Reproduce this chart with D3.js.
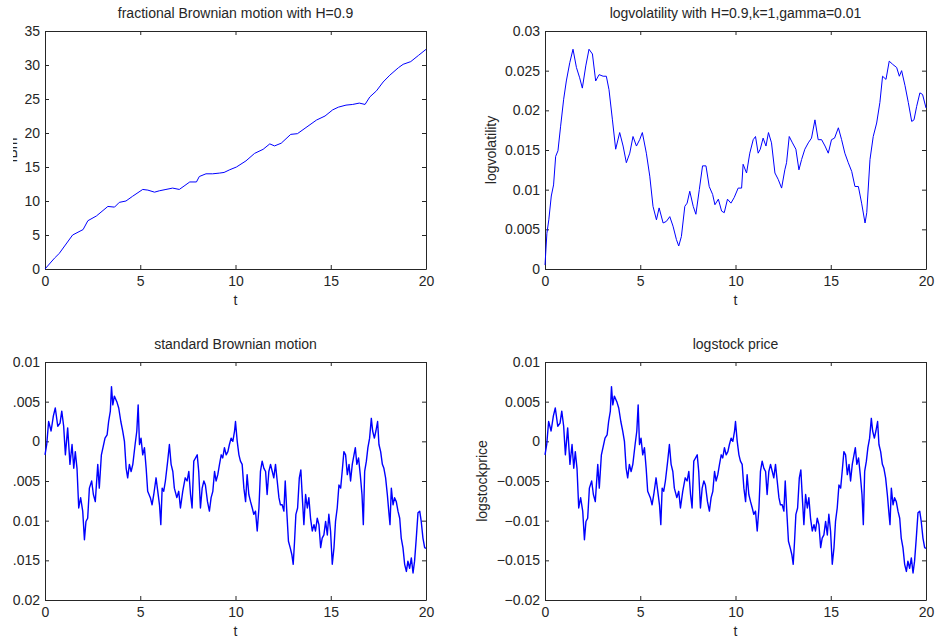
<!DOCTYPE html>
<html>
<head>
<meta charset="utf-8">
<script src="https://cdnjs.cloudflare.com/ajax/libs/d3/7.8.5/d3.min.js"></script>
<style>
  body { margin: 0; background: #fff; }
  svg { display: block; }
</style>
</head>
<body>
<div class="chart"></div>
<script>
// tick values shared by the panels
const tTicks = [0, 5, 10, 15, 20];
const fbmTicks = [0, 5, 10, 15, 20, 25, 30, 35];
const volTicks = [0, 0.005, 0.01, 0.015, 0.02, 0.025, 0.03];
const bmTicks = [-0.02, -0.015, -0.01, -0.005, 0, 0.005, 0.01];

// fractional Brownian motion, H=0.9
const fbmT = [0,0.5,0.75,1.45,2.0,2.25,2.7,3.3,3.65,3.9,4.25,4.6,5.13,5.4,5.75,6.0,6.35,6.7,7.05,7.3,7.6,7.95,8.1,8.45,8.8,9.15,9.4,9.7,10.05,10.55,11.0,11.45,11.8,12.05,12.4,12.9,13.25,13.7,14.25,14.7,15.1,15.4,15.8,16.15,16.5,16.8,17.05,17.4,17.75,18.1,18.55,18.8,19.2,19.6,20];
const fbmV = [0,1.6,2.3,5.0,5.8,7.1,7.8,9.2,9.1,9.8,10.0,10.7,11.7,11.6,11.3,11.5,11.7,11.9,11.7,12.2,12.8,12.8,13.6,14.0,14.0,14.1,14.2,14.6,15.0,15.9,17.0,17.6,18.4,18.1,18.5,19.8,19.9,20.8,21.9,22.5,23.4,23.8,24.1,24.2,24.4,24.2,25.3,26.2,27.5,28.5,29.6,30.1,30.5,31.4,32.3];

// logvolatility
const volT = [0,0.1,0.2,0.33,0.45,0.56,0.68,0.82,0.98,1.12,1.3,1.47,1.65,1.82,1.96,2.14,2.31,2.49,2.66,2.84,3.05,3.22,3.36,3.54,3.71,3.92,4.1,4.27,4.45,4.62,4.8,4.97,5.11,5.32,5.5,5.67,5.85,5.99,6.2,6.37,6.55,6.72,6.9,7.02,7.16,7.34,7.46,7.6,7.78,7.92,8.1,8.27,8.45,8.62,8.8,8.92,9.1,9.27,9.41,9.58,9.76,9.93,10.14,10.32,10.4,10.58,10.75,10.93,11.05,11.19,11.3,11.45,11.6,11.73,11.89,12.07,12.24,12.42,12.59,12.68,12.82,12.99,13.17,13.33,13.47,13.64,13.82,13.99,14.17,14.34,14.52,14.7,14.87,15.04,15.2,15.4,15.57,15.74,15.92,16.1,16.27,16.45,16.62,16.8,16.89,17.06,17.23,17.41,17.58,17.72,17.9,18.07,18.25,18.46,18.6,18.72,18.9,19.07,19.25,19.37,19.51,19.68,19.82,20];
const volV = [0.0005,0.0045,0.0062,0.0092,0.0106,0.0142,0.0149,0.018,0.0214,0.0237,0.026,0.0277,0.0254,0.0241,0.0228,0.0256,0.0277,0.0271,0.0237,0.0245,0.0243,0.0243,0.0226,0.0188,0.0151,0.0172,0.0155,0.0134,0.0146,0.0167,0.0155,0.0163,0.0172,0.0146,0.0117,0.0079,0.0062,0.0077,0.0058,0.006,0.0066,0.0054,0.0037,0.0029,0.0041,0.0079,0.0083,0.0098,0.0079,0.0069,0.01,0.013,0.013,0.0104,0.0094,0.0081,0.0088,0.0073,0.0071,0.0088,0.0083,0.009,0.0102,0.0102,0.0132,0.0121,0.0146,0.0163,0.0167,0.0146,0.0151,0.0165,0.0155,0.0172,0.0159,0.0121,0.0113,0.0102,0.0125,0.0134,0.0167,0.0159,0.0151,0.0125,0.0138,0.0151,0.0159,0.0165,0.0188,0.0163,0.0163,0.0155,0.0146,0.0163,0.0165,0.0178,0.0163,0.0146,0.0134,0.0123,0.0104,0.0104,0.0083,0.0058,0.0071,0.0138,0.0167,0.0184,0.021,0.0243,0.0239,0.0262,0.0258,0.0254,0.0243,0.025,0.0231,0.021,0.0186,0.0188,0.0205,0.0222,0.022,0.0203];

// standard Brownian motion (the logstock price panel shows the same path)
const bmT = [0,0.09,0.19,0.32,0.44,0.54,0.67,0.79,0.88,0.98,1.07,1.19,1.31,1.42,1.51,1.59,1.68,1.77,1.87,1.98,2.07,2.15,2.24,2.33,2.45,2.54,2.64,2.77,2.85,2.96,3.06,3.15,3.26,3.34,3.43,3.49,3.56,3.64,3.77,3.87,3.98,4.08,4.17,4.26,4.34,4.43,4.52,4.61,4.73,4.82,4.89,4.96,5.04,5.13,5.22,5.31,5.39,5.53,5.62,5.71,5.83,5.92,6.01,6.08,6.15,6.23,6.32,6.44,6.53,6.62,6.71,6.79,6.92,7.02,7.11,7.23,7.36,7.46,7.55,7.64,7.72,7.81,7.9,7.99,8.07,8.16,8.25,8.34,8.42,8.53,8.63,8.72,8.81,8.9,8.98,9.07,9.16,9.25,9.33,9.42,9.51,9.6,9.68,9.77,9.86,9.95,
  10.0,10.09,10.18,10.26,10.35,10.44,10.53,10.61,10.7,10.79,10.88,10.96,11.05,11.14,11.23,11.31,11.4,11.49,11.58,11.66,11.75,11.84,11.93,12.01,12.1,12.19,12.28,12.36,12.45,12.54,12.61,12.7,12.78,12.87,12.96,13.03,13.1,13.17,13.26,13.35,13.43,13.52,13.59,13.68,13.77,13.85,13.94,14.03,14.12,14.2,14.29,14.38,14.47,14.55,14.64,14.73,14.82,14.9,14.99,15.08,15.17,15.25,15.34,15.43,15.52,15.6,15.69,15.78,15.87,15.96,16.04,16.13,16.22,16.29,16.37,16.46,16.55,16.64,16.71,16.78,16.87,16.95,17.04,17.13,17.2,17.29,17.37,17.46,17.53,17.62,17.71,17.79,17.88,17.97,18.06,18.11,18.18,18.27,18.35,18.44,18.53,18.62,18.7,18.79,18.88,18.97,19.05,19.14,19.23,19.32,19.4,19.49,19.58,19.67,19.75,19.84,19.93,20];
const bmV = [-0.0017,-0.0004,0.0025,0.0013,0.0032,0.0042,0.0019,0.0023,0.0038,0.0019,-0.0017,0.0017,-0.0029,-0.0004,-0.0034,-0.0013,-0.0034,-0.0084,-0.0071,-0.0088,-0.0124,-0.0101,-0.0097,-0.0059,-0.005,-0.0067,-0.0076,-0.0029,-0.0059,-0.0017,-0.0006,0.0004,0.0008,0.0025,0.0038,0.0069,0.0046,0.0057,0.005,0.0042,0.0025,0.0013,0,-0.0034,-0.0046,-0.0029,-0.0038,-0.0029,-0.0004,0.0013,0.0046,-0.0004,0.0004,-0.0017,-0.0008,-0.0034,-0.0063,-0.0071,-0.008,-0.0067,-0.0046,-0.0063,-0.008,-0.0105,-0.0059,-0.0063,-0.005,-0.0025,-0.0004,-0.0029,-0.0038,-0.0059,-0.0071,-0.0063,-0.0084,-0.0063,-0.0046,-0.005,-0.0038,-0.0067,-0.0084,-0.0025,-0.0021,-0.0017,-0.0038,-0.0084,-0.0059,-0.005,-0.0055,-0.0076,-0.0088,-0.0071,-0.0063,-0.0038,-0.005,-0.0042,-0.0029,-0.0017,-0.0021,-0.0008,-0.0017,-0.0013,-0.0004,0.0004,0,0.0013,
  0.0025,0,-0.0017,-0.0025,-0.0029,-0.0059,-0.0076,-0.0042,-0.0067,-0.0076,-0.0084,-0.0092,-0.0088,-0.0113,-0.0084,-0.0038,-0.0025,-0.0034,-0.0038,-0.0067,-0.0038,-0.0029,-0.0038,-0.0046,-0.0029,-0.005,-0.0071,-0.008,-0.008,-0.0088,-0.005,-0.0092,-0.0126,-0.0134,-0.0143,-0.0155,-0.0126,-0.0092,-0.0084,-0.0046,-0.0036,-0.0076,-0.0105,-0.0067,-0.0084,-0.0071,-0.0097,-0.0113,-0.0105,-0.0113,-0.0097,-0.0105,-0.0134,-0.0122,-0.0118,-0.0101,-0.0118,-0.0092,-0.0113,-0.0155,-0.0134,-0.0101,-0.0084,-0.0055,-0.0059,-0.0038,-0.0013,-0.0017,-0.0042,-0.0029,-0.005,-0.0029,-0.0017,-0.0008,-0.0029,-0.0021,-0.0042,-0.0067,-0.0105,-0.0038,-0.0025,-0.0008,0.0004,0.0029,0.0013,0.0004,0.0013,0.0025,-0.0004,-0.0013,-0.0029,-0.0034,-0.0046,-0.0067,-0.0092,-0.0105,-0.0059,-0.008,-0.0071,-0.0076,-0.0088,-0.0097,-0.0122,-0.0134,-0.0155,-0.0164,-0.0151,-0.016,-0.0147,-0.0166,-0.0151,-0.0122,-0.009,-0.0088,-0.0101,-0.0122,-0.0134,-0.0135];

const w = 937;
const h = 639;
const font = '"Liberation Sans", Arial, sans-serif';
const ink = '#262626';

const svg = d3.select('div.chart')
  .append('svg')
  .attr('width', w)
  .attr('height', h)
  .style('font-family', font);

// the original figure is cropped on its left edge, so clip everything left of x=13
svg.append('clipPath')
  .attr('id', 'crop')
  .append('rect')
  .attr('x', 13)
  .attr('y', 0)
  .attr('width', w - 13)
  .attr('height', h);

const root = svg.append('g').attr('clip-path', 'url(#crop)');

const fmt = (d) => String(+d.toFixed(3)).replace('-', '\u2212');

function panel(p) {
  const x = d3.scaleLinear().domain([0, 20]).range([p.left, p.right]);
  const y = d3.scaleLinear().domain([p.yTicks[0], p.yTicks[p.yTicks.length - 1]]).range([p.bottom, p.top]);

  // four axes with inward ticks, their domain lines make the box
  const axes = [
    [d3.axisBottom(x).tickValues(tTicks).tickFormat(fmt).tickPadding(7), 'translate(0,' + p.bottom + ')'],
    [d3.axisTop(x).tickValues(tTicks).tickFormat(''), 'translate(0,' + p.top + ')'],
    [d3.axisLeft(y).tickValues(p.yTicks).tickFormat(fmt).tickPadding(5), 'translate(' + p.left + ',0)'],
    [d3.axisRight(y).tickValues(p.yTicks).tickFormat(''), 'translate(' + p.right + ',0)']
  ];
  axes.forEach(function(a) {
    root.append('g')
      .attr('transform', a[1])
      .call(a[0].tickSizeInner(-4).tickSizeOuter(0))
      .attr('font-size', 14)
      .attr('font-family', font)
      .attr('color', ink);
  });

  const line = d3.line()
    .x((d) => x(d[0]))
    .y((d) => y(d[1]));

  root.append('path')
    .datum(d3.zip(p.t, p.v))
    .attr('fill', 'none')
    .attr('stroke', '#0000ff')
    .attr('stroke-width', p.sw)
    .attr('stroke-linejoin', 'round')
    .attr('d', line);

  root.append('text')
    .text(p.title)
    .attr('x', (p.left + p.right) / 2)
    .attr('y', p.top - 13)
    .attr('text-anchor', 'middle')
    .attr('font-size', 14)
    .attr('fill', ink);

  root.append('text')
    .text('t')
    .attr('x', (p.left + p.right) / 2)
    .attr('y', p.bottom + 36)
    .attr('text-anchor', 'middle')
    .attr('font-size', 14)
    .attr('fill', ink);

  if (p.ylabel) {
    root.append('text')
      .text(p.ylabel)
      .attr('transform', 'translate(' + p.ylx + ',' + (p.top + p.bottom) / 2 + ') rotate(-90)')
      .attr('text-anchor', 'middle')
      .attr('font-size', 14)
      .attr('fill', ink);
  }
}

panel({title: 'fractional Brownian motion with H=0.9', ylabel: 'fBm', ylx: 17,
  left: 45, right: 426, top: 31, bottom: 269, yTicks: fbmTicks, t: fbmT, v: fbmV, sw: 1});
panel({title: 'logvolatility with H=0.9,k=1,gamma=0.01', ylabel: 'logvolatility', ylx: 496,
  left: 545, right: 926, top: 31, bottom: 269, yTicks: volTicks, t: volT, v: volV, sw: 1});
panel({title: 'standard Brownian motion',
  left: 45, right: 426, top: 362, bottom: 600, yTicks: bmTicks, t: bmT, v: bmV, sw: 1.4});
panel({title: 'logstock price', ylabel: 'logstockprice', ylx: 487,
  left: 545, right: 926, top: 362, bottom: 600, yTicks: bmTicks, t: bmT, v: bmV, sw: 1.4});
</script>
</body>
</html>
